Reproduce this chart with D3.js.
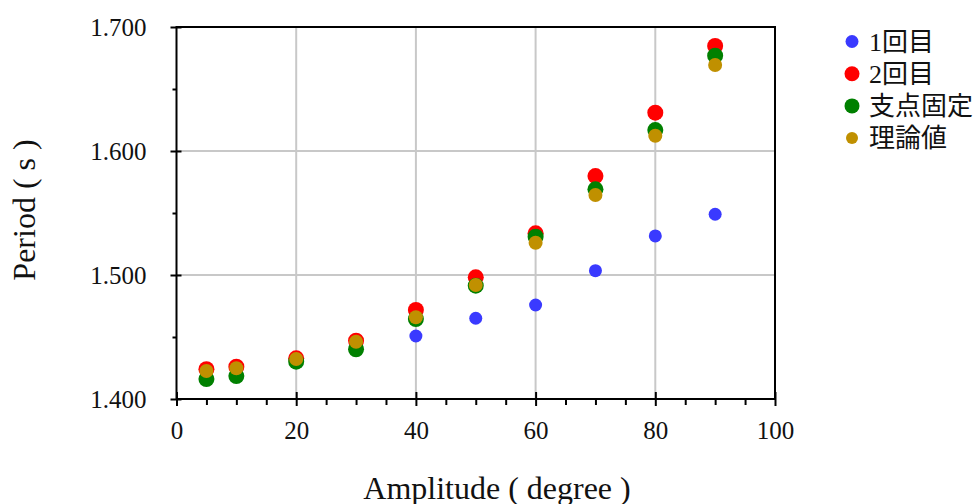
<!DOCTYPE html>
<html>
<head>
<meta charset="utf-8">
<script src="https://cdn.jsdelivr.net/npm/d3@7/dist/d3.min.js"></script>
<style>
  body { margin: 0; background: #fff; }
  text { font-family: "Liberation Serif", "Noto Sans CJK JP", serif; fill: #111; }
</style>
</head>
<body>
<script>
// Constant values
const w = 979;
const h = 504;

// Data
const amplitudes = [5, 10, 20, 30, 40, 50, 60, 70, 80, 90];
const run1 = [1.4244, 1.4252, 1.4326, 1.4465, 1.4508, 1.4651, 1.4758, 1.5035, 1.5315, 1.5490];
const run2 = [1.4240, 1.4260, 1.4328, 1.4470, 1.4718, 1.4981, 1.5336, 1.5798, 1.6309, 1.6847];
const fixedPivot = [1.4161, 1.4185, 1.4301, 1.4401, 1.4645, 1.4914, 1.5309, 1.5691, 1.6169, 1.6769];
const theory = [1.4226, 1.4248, 1.4323, 1.4462, 1.4659, 1.4919, 1.5260, 1.5645, 1.6123, 1.6694];

const seriesNames = ['1回目', '2回目', '支点固定', '理論値'];
const seriesColors = ['#3a3aff', '#ff0000', '#008000', '#c09000'];
const seriesRadius = [6.5, 8, 8, 7];
const seriesValues = [run1, run2, fixedPivot, theory];

const xTicks = [0, 20, 40, 60, 80, 100];
const xMinor = [5, 10, 15, 25, 30, 35, 45, 50, 55, 65, 70, 75, 85, 90, 95];
const yTicks = [1.4, 1.5, 1.6, 1.7];
const yMinor = [1.45, 1.55, 1.65];

// Svg canvas
const svg = d3.select('body')
  .append('svg')
  .attr('width', w)
  .attr('height', h);

// Scales
const xScale = d3.scaleLinear().domain([0, 100]).range([176.5, 775]);
const yScale = d3.scaleLinear().domain([1.4, 1.7]).range([399, 27]);

// Grid lines
svg.append('g')
  .selectAll('line')
  .data(xTicks.slice(1, -1))
  .enter()
  .append('line')
  .attr('x1', d => xScale(d)).attr('x2', d => xScale(d))
  .attr('y1', yScale(1.7)).attr('y2', yScale(1.4))
  .attr('stroke', '#c8c8c8').attr('stroke-width', 2);

svg.append('g')
  .selectAll('line')
  .data(yTicks.slice(1, -1))
  .enter()
  .append('line')
  .attr('y1', d => yScale(d)).attr('y2', d => yScale(d))
  .attr('x1', xScale(0)).attr('x2', xScale(100))
  .attr('stroke', '#c8c8c8').attr('stroke-width', 2);

// Axes
const styleAxis = (g) => {
  g.select('.domain').remove();
  g.selectAll('.tick line').attr('stroke', '#000').attr('stroke-width', 2);
  g.selectAll('.tick text').style('font-size', '25px').attr('fill', '#111');
};

svg.append('g')
  .attr('transform', 'translate(0,' + yScale(1.4) + ')')
  .call(d3.axisBottom(xScale).tickValues(xTicks).tickSize(7).tickPadding(15).tickFormat(d3.format('d')))
  .call(styleAxis);
svg.append('g')
  .attr('transform', 'translate(0,' + yScale(1.4) + ')')
  .call(d3.axisTop(xScale).tickValues(xTicks).tickSize(7).tickFormat(''))
  .call(styleAxis);
svg.append('g')
  .attr('transform', 'translate(0,' + yScale(1.4) + ')')
  .call(d3.axisBottom(xScale).tickValues(xMinor).tickSize(6).tickFormat(''))
  .call(styleAxis);

svg.append('g')
  .attr('transform', 'translate(' + xScale(0) + ',0)')
  .call(d3.axisLeft(yScale).tickValues(yTicks).tickSize(6).tickPadding(24).tickFormat(d3.format('.3f')))
  .call(styleAxis);
svg.append('g')
  .attr('transform', 'translate(' + xScale(0) + ',0)')
  .call(d3.axisRight(yScale).tickValues(yTicks).tickSize(5).tickFormat(''))
  .call(styleAxis);
svg.append('g')
  .attr('transform', 'translate(' + xScale(0) + ',0)')
  .call(d3.axisLeft(yScale).tickValues(yMinor).tickSize(4).tickFormat(''))
  .call(styleAxis);

// Plot frame
svg.append('rect')
  .attr('x', xScale(0)).attr('y', yScale(1.7))
  .attr('width', xScale(100) - xScale(0))
  .attr('height', yScale(1.4) - yScale(1.7))
  .attr('fill', 'none').attr('stroke', '#000').attr('stroke-width', 2);

// Points
seriesValues.forEach((values, i) => {
  svg.append('g')
    .selectAll('circle')
    .data(values)
    .enter()
    .append('circle')
    .attr('cx', (d, j) => xScale(amplitudes[j]))
    .attr('cy', d => yScale(d))
    .attr('r', seriesRadius[i])
    .attr('fill', seriesColors[i]);
});

// Axis titles
svg.append('text')
  .attr('x', 497)
  .attr('y', 499)
  .attr('text-anchor', 'middle')
  .style('font-size', '32px')
  .text('Amplitude ( degree )');

svg.append('text')
  .attr('transform', 'translate(35,210) rotate(-90)')
  .attr('text-anchor', 'middle')
  .style('font-size', '32px')
  .text('Period ( s )');

// Legend
const legend = svg.append('g')
  .selectAll('g')
  .data(seriesNames)
  .enter()
  .append('g')
  .attr('transform', (d, i) => 'translate(852,' + (41.5 + i * 32.2) + ')');

legend.append('circle')
  .attr('r', (d, i) => [6.5, 7.5, 7.5, 6][i])
  .attr('fill', (d, i) => seriesColors[i]);

legend.append('text')
  .attr('x', 17)
  .attr('y', 9)
  .style('font-size', '26px')
  .text(d => d);
</script>
</body>
</html>
